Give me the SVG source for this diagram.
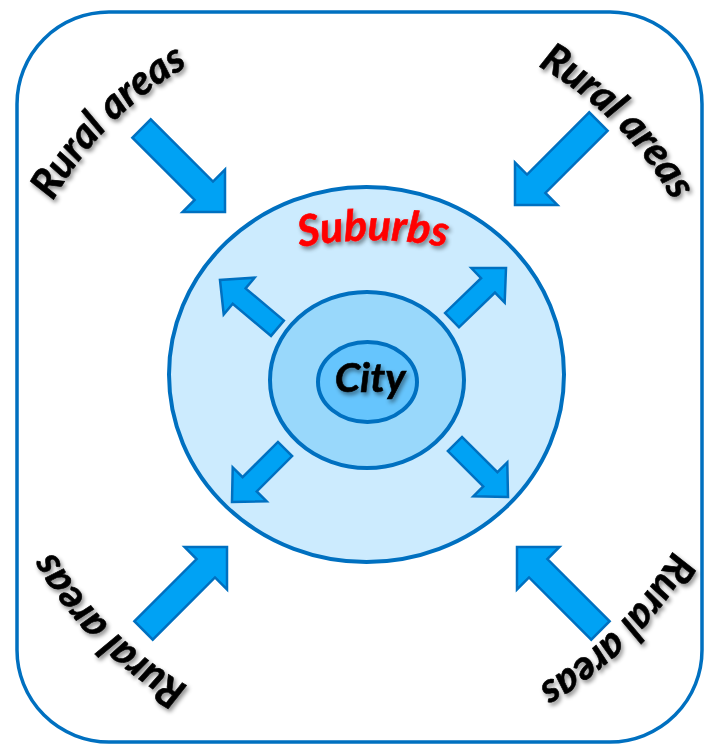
<svg xmlns="http://www.w3.org/2000/svg" xmlns:xlink="http://www.w3.org/1999/xlink" width="704" height="746" viewBox="0 0 704 746">
  <style>
    .ring { stroke: #0070C0; stroke-width: 4; }
    .arrow { fill: #00A2F4; stroke: #0070C0; stroke-width: 2.5; stroke-linejoin: miter; }
    .lbl { font-family: Lato, "Liberation Sans", Arial, sans-serif; font-weight: bold; font-style: italic; font-size: 41px; stroke-width: 0.6; }
    .dark { fill: #000000; stroke: #000000; }
    .red { fill: #FF0000; stroke: #FF0000; font-size: 43px; }
  </style>
  <defs>
    <filter id="shadow" x="-20%" y="-20%" width="140%" height="140%">
      <feDropShadow dx="2" dy="3" stdDeviation="2" flood-color="#000000" flood-opacity="0.45"/>
    </filter>
    <path id="bigArrow" d="M0,0 L-30,-30 L-30,-13 L-118,-13 L-118,13 L-30,13 L-30,30 Z"/>
    <path id="smallArrow" d="M0,0 L-25,-24 L-25,-10 L-75,-10 L-75,10 L-25,10 L-25,24 Z"/>
    <path id="arcTL" d="M 35.3,236.9 A 356 356 0 0 1 223.9,48.3"/>
    <path id="arcTR" d="M 502.1,48.3 A 356 356 0 0 1 690.7,236.9"/>
    <path id="arcBR" d="M 690.7,515.1 A 356 356 0 0 1 502.1,703.7"/>
    <path id="arcBL" d="M 223.9,703.7 A 356 356 0 0 1 35.3,515.1"/>
    <path id="arcSub" d="M 273,253 A 400 400 0 0 1 473,253"/>
  </defs>

  <g id="frame">
    <rect x="17" y="12" width="685" height="730" rx="92" ry="92" fill="#FFFFFF" stroke="#0070C0" stroke-width="3.5"/>
  </g>

  <g id="suburbs">
    <ellipse class="ring" cx="366.5" cy="374.5" rx="197.5" ry="187.5" fill="#CCEBFE"/>
    <text class="lbl red" filter="url(#shadow)"><textPath xlink:href="#arcSub" href="#arcSub" startOffset="50%" text-anchor="middle">Suburbs</textPath></text>
  </g>

  <g id="inner-ring">
    <ellipse class="ring" cx="367" cy="380" rx="97" ry="88" fill="#99D8FB"/>
  </g>

  <g id="city">
    <ellipse class="ring" cx="367.5" cy="382" rx="49.5" ry="40" fill="#66C5FD"/>
    <text class="lbl dark" x="370" y="392" text-anchor="middle" filter="url(#shadow)">City</text>
  </g>

  <g id="rural-tl">
    <text class="lbl dark" filter="url(#shadow)"><textPath xlink:href="#arcTL" href="#arcTL" startOffset="50%" text-anchor="middle">Rural areas</textPath></text>
  </g>
  <g id="rural-tr">
    <text class="lbl dark" filter="url(#shadow)"><textPath xlink:href="#arcTR" href="#arcTR" startOffset="50%" text-anchor="middle">Rural areas</textPath></text>
  </g>
  <g id="rural-br">
    <text class="lbl dark" filter="url(#shadow)"><textPath xlink:href="#arcBR" href="#arcBR" startOffset="50%" text-anchor="middle">Rural areas</textPath></text>
  </g>
  <g id="rural-bl">
    <text class="lbl dark" filter="url(#shadow)"><textPath xlink:href="#arcBL" href="#arcBL" startOffset="50%" text-anchor="middle">Rural areas</textPath></text>
  </g>

  <g id="connectors">
    <use class="arrow" xlink:href="#bigArrow" href="#bigArrow" transform="translate(225,212) rotate(45)"/>
    <use class="arrow" xlink:href="#bigArrow" href="#bigArrow" transform="translate(515,205) rotate(135)"/>
    <use class="arrow" xlink:href="#bigArrow" href="#bigArrow" transform="translate(227,547) rotate(-45)"/>
    <use class="arrow" xlink:href="#bigArrow" href="#bigArrow" transform="translate(517,547) rotate(-135)"/>
    <use class="arrow" xlink:href="#smallArrow" href="#smallArrow" transform="translate(220,280) rotate(220)"/>
    <use class="arrow" xlink:href="#smallArrow" href="#smallArrow" transform="translate(506,268) rotate(-44)"/>
    <use class="arrow" xlink:href="#smallArrow" href="#smallArrow" transform="translate(232,502) rotate(135)"/>
    <use class="arrow" xlink:href="#smallArrow" href="#smallArrow" transform="translate(508,497) rotate(45)"/>
  </g>
</svg>
